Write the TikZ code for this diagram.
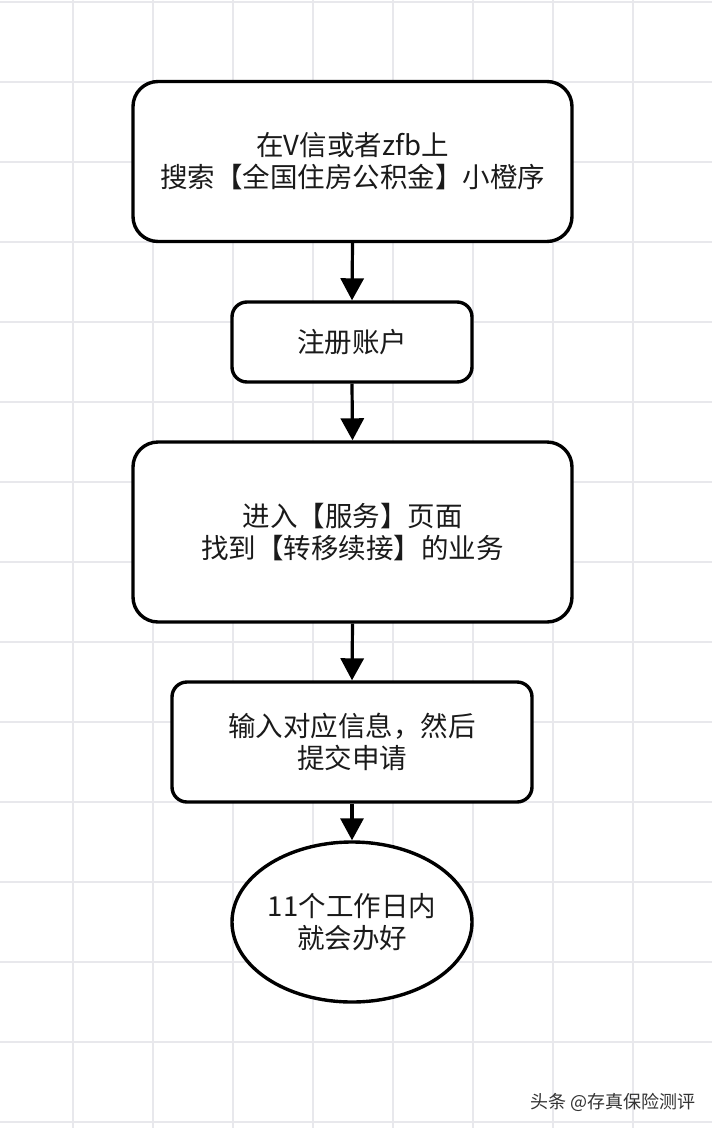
\documentclass[tikz,border=0pt]{standalone}
\usepackage{fontspec}
\newfontfamily\cjk{Noto Sans CJK SC}
\usetikzlibrary{shapes.geometric,arrows.meta}
\definecolor{gridc}{HTML}{E8E8EC}
\definecolor{txt}{HTML}{1A1A1A}
\tikzset{
  box/.style={draw=black, line width=3.4pt, fill=white, inner sep=0pt, align=center,
    text=txt, font=\cjk\fontsize{27.5}{32}\selectfont},
  bigbox/.style={box, rounded corners=25pt, minimum width=439pt, minimum height=160pt},
  smallbox/.style={box, rounded corners=15pt},
  endnode/.style={box, ellipse, minimum width=240pt, minimum height=160pt},
  flow/.style={line width=3.2pt, -{Triangle[length=22pt,width=23pt]}},
  gridline/.style={gridc, line width=1.1pt},
  wmark/.style={font=\cjk\fontsize{18}{22}\selectfont, text=black!80, inner sep=0pt}
}
\begin{document}
\begin{tikzpicture}[x=1pt,y=-1pt]
\useasboundingbox[fill=white] (0,0) rectangle (712,1128);
% grid
\foreach \gx in {73,153,...,713} \draw[gridline] (\gx,0) -- (\gx,1128);
\foreach \gy in {2,82,...,1122} \draw[gridline] (0,\gy) -- (712,\gy);
% nodes
\node[bigbox] (s1) at (352.5,161.5) {在V信或者zfb上\\搜索【全国住房公积金】小橙序};
\node[smallbox, minimum width=240pt, minimum height=80pt] (s2) at (352,342) {注册账户};
\node[bigbox, minimum height=180pt] (s3) at (352.5,532) {进入【服务】页面\\找到【转移续接】的业务};
\node[smallbox, minimum width=360pt, minimum height=120pt] (s4) at (352,742) {输入对应信息，然后\\提交申请};
\node[endnode] (s5) at (352,922) {11个工作日内\\就会办好};
% connectors
\draw[flow] (s1.south) -- (s2.north);
\draw[flow] (s2.south) -- (s3.north);
\draw[flow] (s3.south) -- (s4.north);
\draw[flow] (s4.south) -- (s5.north);
% watermark
\node[wmark, anchor=west] (wm) at (530,1102) {头条 @存真保险测评};
\end{tikzpicture}
\end{document}
